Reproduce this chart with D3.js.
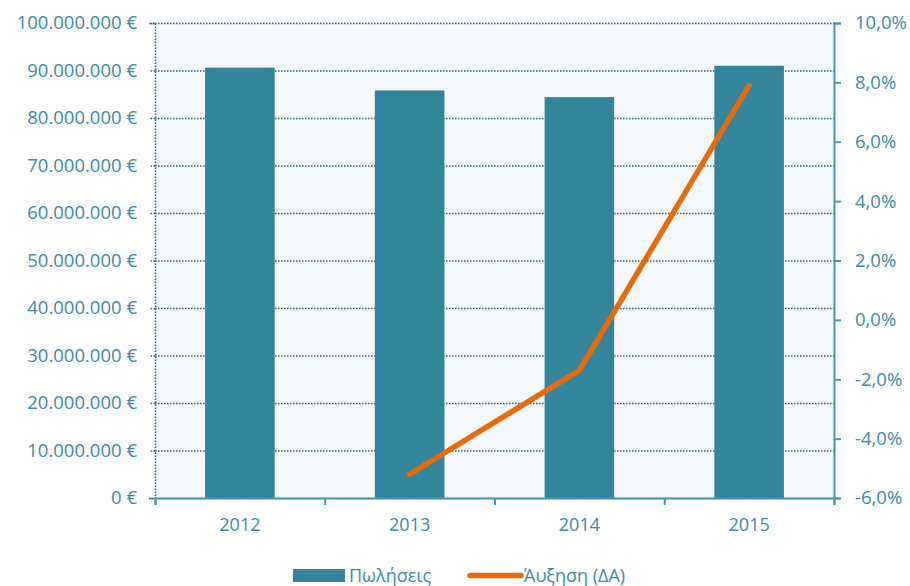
<!DOCTYPE html>
<html>
<head>
<meta charset="utf-8">
<script src="https://cdn.jsdelivr.net/npm/d3@7"></script>
<style>
  body { margin: 0; background: #fff; }
  svg text { font-family: "Open Sans", sans-serif; fill: #3a8ba3; }
</style>
</head>
<body>
<div id="chart"></div>
<script>
// chart data
var years = ["2012", "2013", "2014", "2015"];
var sales = [90600000, 85800000, 84400000, 91000000];
var growth = [null, -5.2, -1.7, 7.9];
var leftTicks = [0, 10000000, 20000000, 30000000, 40000000, 50000000, 60000000, 70000000, 80000000, 90000000, 100000000];
var rightTicks = [-6, -4, -2, 0, 2, 4, 6, 8, 10];
var seriesNames = ["Πωλήσεις", "Άυξηση (ΔΑ)"];

var barColor = "#32859b",
    lineColor = "#e46c0a",
    axisColor = "#4a97ad",
    gridColor = "#2f6474";

var margin = {top: 23, right: 76, bottom: 88, left: 155},
    fullW = 910, fullH = 586,
    width = fullW - margin.left - margin.right,
    height = fullH - margin.top - margin.bottom;

var svg = d3.select("#chart")
  .append("svg")
  .attr("width", fullW)
  .attr("height", fullH)
  .append("g")
  .attr("transform", "translate(" + margin.left + "," + margin.top + ")");

// plot background
svg.append("rect")
  .attr("width", width)
  .attr("height", height)
  .attr("fill", "#f5f9fc");

var x = d3.scaleBand()
  .domain(years)
  .range([0, width])
  .paddingInner(0.59)
  .paddingOuter(0.295);

var y = d3.scaleLinear().domain([0, 100000000]).range([height, 0]);
var y2 = d3.scaleLinear().domain([-6, 10]).range([height, 0]);

function euro(d) {
  return d3.format(",")(d).replace(/,/g, ".") + " €";
}
function pct(d) {
  return d.toFixed(1).replace(".", ",") + "%";
}

// gridlines
svg.append("g")
  .attr("class", "grid")
  .call(d3.axisLeft(y).tickValues(leftTicks).tickSize(-width).tickFormat(""))
  .call(function(g) { g.select(".domain").remove(); })
  .selectAll("line")
  .attr("stroke", gridColor)
  .attr("stroke-width", 1.5)
  .attr("stroke-dasharray", "1.5,1.5");

// bars
svg.selectAll(".bar")
  .data(sales)
  .enter().append("rect")
  .attr("class", "bar")
  .attr("x", function(d, i) { return x(years[i]); })
  .attr("y", function(d) { return y(d); })
  .attr("width", x.bandwidth())
  .attr("height", function(d) { return height - y(d); })
  .attr("fill", barColor);

// left axis (dotted)
var leftAxis = svg.append("g")
  .call(d3.axisLeft(y).tickValues(leftTicks).tickSize(6).tickPadding(12).tickFormat(euro));
leftAxis.select(".domain")
  .attr("stroke", gridColor)
  .attr("stroke-width", 1.5)
  .attr("stroke-dasharray", "1.5,1.5");
leftAxis.selectAll("line")
  .attr("stroke", gridColor)
  .attr("stroke-width", 1.5)
  .attr("stroke-dasharray", "1.5,1.5");
leftAxis.selectAll("text")
  .style("font-size", "18.5px")
  .attr("fill", null);

// right axis
var rightAxis = svg.append("g")
  .attr("transform", "translate(" + width + ",0)")
  .call(d3.axisRight(y2).tickValues(rightTicks).tickSize(7).tickPadding(14).tickFormat(pct));
rightAxis.select(".domain").attr("stroke", axisColor).attr("stroke-width", 2);
rightAxis.selectAll("line").attr("stroke", axisColor).attr("stroke-width", 2);
rightAxis.selectAll("text").style("font-size", "18.5px").attr("fill", null);

// bottom axis, ticks between categories
var xEdges = d3.scaleLinear().domain([0, years.length]).range([0, width]);
var bottomAxis = svg.append("g")
  .attr("transform", "translate(0," + height + ")")
  .call(d3.axisBottom(xEdges).ticks(years.length).tickSize(7).tickFormat(""));
bottomAxis.select(".domain").attr("stroke", axisColor).attr("stroke-width", 2);
bottomAxis.selectAll("line").attr("stroke", axisColor).attr("stroke-width", 2);

svg.append("g")
  .attr("transform", "translate(0," + height + ")")
  .call(d3.axisBottom(x).tickSize(0).tickPadding(20))
  .call(function(g) { g.select(".domain").remove(); })
  .selectAll("text")
  .style("font-size", "18px")
  .attr("fill", null);

// growth line
var lineData = growth.map(function(d, i) { return {year: years[i], value: d}; })
  .filter(function(d) { return d.value !== null; });

svg.append("path")
  .datum(lineData)
  .attr("fill", "none")
  .attr("stroke", lineColor)
  .attr("stroke-width", 5.5)
  .attr("stroke-linecap", "round")
  .attr("stroke-linejoin", "round")
  .attr("d", d3.line()
    .x(function(d) { return x(d.year) + x.bandwidth() / 2; })
    .y(function(d) { return y2(d.value); }));

// legend
var legend = d3.select("svg").append("g")
  .attr("transform", "translate(293,569)");

legend.append("rect")
  .attr("width", 52)
  .attr("height", 13)
  .attr("fill", barColor);
legend.append("text")
  .attr("x", 56)
  .attr("y", 12.5)
  .style("font-size", "18px")
  .text(seriesNames[0]);

legend.append("line")
  .attr("x1", 177).attr("x2", 228)
  .attr("y1", 6.5).attr("y2", 6.5)
  .attr("stroke", lineColor)
  .attr("stroke-width", 5.5)
  .attr("stroke-linecap", "round");
legend.append("text")
  .attr("x", 231)
  .attr("y", 12.5)
  .style("font-size", "18px")
  .text(seriesNames[1]);
</script>
</body>
</html>
